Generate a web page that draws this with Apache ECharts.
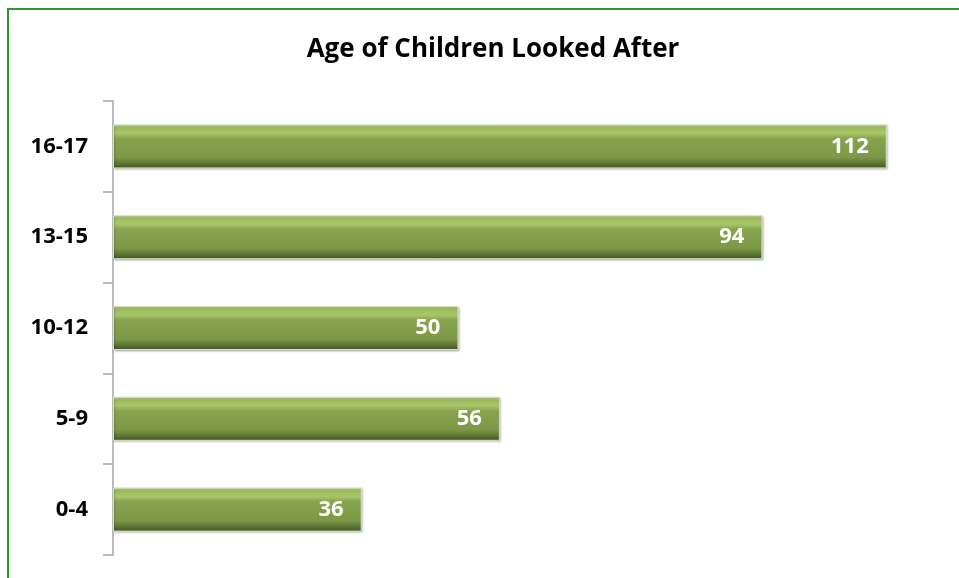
<!DOCTYPE html>
<html><head><meta charset="utf-8">
<script src="https://cdn.jsdelivr.net/npm/echarts@6/dist/echarts.min.js"></script>
<style>html,body{margin:0;padding:0;background:#fff}#c{width:959px;height:578px}
#frame{position:absolute;left:7px;top:8px;width:960px;height:580px;border-left:2px solid #2e9a2e;border-top:2px solid #2e9a2e;pointer-events:none}</style>
</head><body><div id="c"></div><div id="frame"></div>
<script>
const categories = ['0-4', '5-9', '10-12', '13-15', '16-17'];
const values = [36, 56, 50, 94, 112];
const chart = echarts.init(document.getElementById('c'));
chart.setOption({
  backgroundColor: '#ffffff',
  animation: false,
  title: {text: 'Age of Children Looked After', left: 488, textAlign: 'center', top: 32,
    textStyle: {fontFamily: 'Open Sans', fontWeight: 'bold', fontSize: 26, color: '#000'}},
  grid: {left: 113, right: 17, top: 101, bottom: 23},
  xAxis: {type: 'value', min: 0, max: 120, show: false, splitLine: {show: false}},
  yAxis: {type: 'category', data: categories,
    axisLine: {show: true, lineStyle: {color: '#a6a6a6', width: 1.5}},
    axisTick: {show: true, length: 10, lineStyle: {color: '#a6a6a6', width: 1.5}},
    axisLabel: {margin: 25, fontFamily: 'Open Sans', fontWeight: 'bold', fontSize: 22, color: '#000'}},
  series: [{type: 'bar', data: values, barWidth: 44,
    itemStyle: {
      color: {type: 'linear', x: 0, y: 0, x2: 0, y2: 1, colorStops: [
        {offset: 0, color: '#c9dc9a'}, {offset: 0.08, color: '#9cbb5c'}, {offset: 0.2, color: '#a9c768'},
        {offset: 0.32, color: '#87a34e'}, {offset: 0.75, color: '#7d9846'},
        {offset: 0.88, color: '#5f7735'}, {offset: 1, color: '#3f5322'}]},
      borderColor: '#d6e3bf', borderWidth: 1,
      shadowColor: 'rgba(0,0,0,0.25)', shadowBlur: 2, shadowOffsetX: 1, shadowOffsetY: 1
    },
    label: {show: true, position: 'insideRight', distance: 18, color: '#fff',
      fontFamily: 'Open Sans', fontWeight: 'bold', fontSize: 22}
  }]
});
</script></body></html>
